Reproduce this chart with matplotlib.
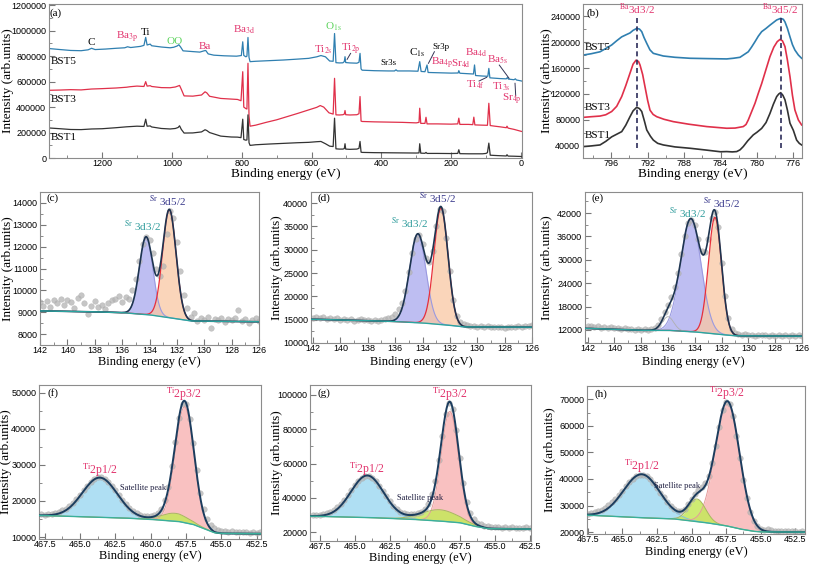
import numpy as np
import matplotlib
matplotlib.use("Agg")
import matplotlib.pyplot as plt
from matplotlib.ticker import MultipleLocator, FormatStrFormatter

plt.rcParams["font.family"] = "Liberation Sans"
plt.rcParams["mathtext.fontset"] = "stix"
SERIF = "Liberation Serif"
W, H = 817, 565

# ---------------- (a) survey spectra: (BE, intensity) vertices ----------------
survey_bst5 = [
    (1352, 860000), (1320, 852000), (1290, 845000), (1260, 843000), (1240, 850000), (1230, 862000),
    (1220, 852000), (1190, 856000), (1160, 862000), (1135, 866000), (1127, 874000), (1118, 868000),
    (1090, 877000), (1080, 885000), (1075, 948000), (1071, 888000), (1062, 895000), (1058, 882000),
    (1030, 872000), (1005, 866000), (995, 870000), (985, 880000), (980, 890000), (975, 872000),
    (968, 842000), (940, 836000), (920, 832000), (908, 842000), (903, 845000), (896, 818000),
    (880, 808000), (850, 803000), (815, 800000), (801, 805000), (797, 913000), (794, 806000),
    (788, 795000), (785, 800000), (782, 947000), (779, 790000), (776, 757000), (760, 760000),
    (720, 765000), (680, 770000), (640, 777000), (608, 783000), (585, 795000), (573, 805000),
    (560, 795000), (548, 762000), (538, 760000), (534, 978000), (530, 749000), (520, 747000),
    (510, 748000), (506, 758000), (504, 796000), (502, 750000), (490, 747000), (470, 745000),
    (464, 752000), (461, 822000), (458, 700000), (455, 690000), (420, 686000), (380, 684000),
    (362, 684000), (358, 693000), (354, 684000), (320, 684000), (295, 682000), (290, 757000),
    (286, 680000), (275, 678000), (272, 705000), (269, 731000), (266, 672000), (240, 670000),
    (200, 667000), (180, 668000), (178, 686000), (175, 666000), (150, 662000), (136, 660000),
    (133, 731000), (130, 648000), (110, 644000), (95, 642000), (92, 704000), (89, 630000),
    (75, 627000), (60, 624000), (42, 622000), (39, 632000), (36, 620000), (20, 615000),
    (16, 622000), (13, 613000), (0, 606000), (-3, 604000),
]
survey_bst3 = [
    (1352, 532000), (1320, 534000), (1290, 537000), (1260, 535000), (1230, 542000), (1200, 545000),
    (1160, 550000), (1130, 556000), (1120, 560000), (1100, 565000), (1080, 562000), (1075, 600000),
    (1071, 565000), (1062, 568000), (1058, 562000), (1030, 553000), (1005, 552000), (990, 558000),
    (982, 566000), (978, 570000), (973, 540000), (965, 488000), (940, 486000), (915, 495000),
    (905, 520000), (900, 512000), (892, 485000), (860, 468000), (830, 463000), (812, 460000),
    (802, 450000), (797, 678000), (794, 400000), (788, 388000), (785, 385000), (782, 744000),
    (779, 330000), (776, 250000), (760, 258000), (730, 280000), (700, 300000), (670, 325000),
    (640, 350000), (608, 378000), (585, 398000), (575, 412000), (565, 400000), (550, 355000),
    (538, 345000), (534, 626000), (530, 339000), (520, 338000), (510, 340000), (506, 345000),
    (504, 373000), (502, 340000), (490, 338000), (470, 340000), (464, 348000), (461, 483000),
    (458, 290000), (455, 287000), (420, 284000), (380, 282000), (340, 280000), (300, 276000),
    (292, 280000), (290, 391000), (287, 272000), (275, 272000), (272, 320000), (269, 268000),
    (240, 268000), (200, 266000), (181, 268000), (178, 313000), (175, 264000), (150, 264000),
    (138, 262000), (135, 321000), (132, 260000), (110, 258000), (96, 257000), (92, 430000),
    (88, 255000), (75, 250000), (60, 245000), (42, 238000), (40, 250000), (37, 235000),
    (20, 225000), (0, 210000), (-3, 208000),
]
survey_bst1 = [
    (1352, 236000), (1320, 230000), (1290, 224000), (1260, 223000), (1230, 228000), (1200, 230000),
    (1160, 238000), (1130, 245000), (1100, 250000), (1080, 248000), (1075, 305000), (1071, 250000),
    (1062, 252000), (1058, 244000), (1030, 232000), (1005, 228000), (990, 232000), (982, 240000),
    (978, 253000), (973, 225000), (965, 196000), (940, 197000), (915, 205000), (905, 222000),
    (900, 216000), (892, 200000), (860, 172000), (830, 165000), (812, 164000), (802, 160000),
    (797, 305000), (794, 145000), (788, 140000), (785, 142000), (782, 339000), (779, 120000),
    (776, 99000), (760, 104000), (720, 110000), (680, 115000), (640, 120000), (608, 123000),
    (585, 128000), (573, 130000), (560, 112000), (548, 93000), (538, 90000), (534, 313000),
    (530, 72000), (520, 70000), (510, 70000), (506, 74000), (504, 112000), (502, 70000),
    (490, 68000), (470, 70000), (464, 76000), (461, 130000), (458, 46000), (455, 44000),
    (420, 42000), (380, 41000), (340, 40000), (300, 39000), (292, 40000), (290, 112000),
    (287, 38000), (275, 37000), (272, 44000), (269, 36000), (240, 36000), (200, 35000),
    (181, 36000), (178, 65000), (175, 34000), (150, 33000), (110, 33000), (100, 36000),
    (96, 42000), (92, 117000), (88, 22000), (75, 20000), (60, 18000), (42, 16000),
    (40, 26000), (37, 15000), (20, 14000), (0, 12000), (-3, 11000),
]

# ---------------- (b) Ba 3d region ----------------
ba3d_bst5 = [
    (799.06, 180000), (798.2, 182000), (797.23, 185000), (796.6, 190000), (795.95, 195500),
    (795.4, 202000), (794.85, 208000), (794.4, 211000), (793.94, 214000), (793.6, 218000),
    (793.2, 221000), (792.9, 220000), (792.65, 216000), (792.4, 207000), (792.1, 198000),
    (791.75, 188000), (791.38, 182600), (790.28, 178500), (789.0, 176500), (787.35, 175000),
    (785.5, 174500), (783.32, 174000), (782.6, 175000), (781.86, 176500), (780.95, 185000),
    (780.6, 192000), (780.21, 200600), (779.85, 209000), (779.48, 216000), (779.0, 221000),
    (778.57, 226000), (778.2, 230000), (777.83, 234000), (777.39, 236500), (777.1, 235000),
    (776.92, 231000), (776.65, 221000), (776.37, 208000), (776.1, 196000), (775.83, 187700),
    (775.45, 180000), (775.09, 175000),
]
ba3d_bst3 = [
    (799.06, 84000), (798.2, 85000), (797.23, 86000), (796.6, 88000), (795.95, 93000),
    (795.4, 101000), (794.85, 116000), (794.4, 133000), (793.94, 152000), (793.6, 166000),
    (793.28, 172000), (793.0, 170000), (792.84, 164700), (792.55, 150000), (792.29, 131000),
    (792.0, 110000), (791.74, 95000), (791.4, 88500), (791.0, 85000), (790.2, 81000),
    (789.18, 77400), (787.5, 73500), (785.52, 69800), (783.32, 67200), (782.4, 67500),
    (781.5, 69800), (781.2, 73000), (780.95, 80000), (780.21, 105700), (779.85, 121000),
    (779.48, 136000), (779.0, 158000), (778.57, 177500), (778.15, 192000), (777.77, 200600),
    (777.47, 204000), (777.2, 202000), (776.92, 193000), (776.65, 172000), (776.37, 146700),
    (776.1, 118000), (775.83, 95400), (775.45, 80000), (775.09, 72300),
]
ba3d_bst1 = [
    (799.06, 39000), (798.2, 40000), (797.23, 41500), (796.6, 47000), (795.95, 54000),
    (795.4, 58000), (794.85, 62000), (794.4, 72000), (793.94, 85000), (793.6, 94000),
    (793.2, 99500), (792.9, 97500), (792.65, 93000), (792.35, 78000), (792.1, 64600),
    (791.7, 55000), (791.38, 49000), (790.9, 44000), (790.28, 41500), (789.0, 38500),
    (787.35, 36400), (785.5, 33500), (784.0, 31000), (783.32, 31300), (782.7, 30800),
    (782.22, 31300), (781.85, 34000), (781.5, 39000), (781.0, 48000), (780.4, 57000),
    (780.0, 61000), (779.48, 67000), (779.0, 76000), (778.57, 90000), (778.2, 104000),
    (777.83, 116000), (777.6, 120000), (777.39, 122000), (777.15, 118000), (776.92, 111000),
    (776.65, 95000), (776.37, 75000), (776.0, 64000), (775.64, 49000), (775.35, 44000),
    (775.09, 41500),
]
ba3d_marks = [793.2, 777.36]

# ---------------- (c)-(e) Sr 3d: measured points (every 0.25 eV, 142 -> 126) ----------------
sr_x = np.arange(142.0, 125.99, -0.25)
sr_c_pts = [9450, 9300, 9500, 9250, 9550, 9400, 9600, 9350, 9550, 9450, 9200, 9650, 9800, 9400,
            8900, 9300, 9500, 9250, 9350, 9150, 9400, 9550, 9600, 9750, 9450, 9700, 9600, 10000,
            10500, 11350, 12100, 12450, 12300, 11700, 11000, 10650, 11100, 12600, 13650, 13300,
            12200, 10900, 9800, 9200, 8800, 8950, 8600, 8750, 8650, 8800, 8300, 8700, 8650, 8750,
            8550, 8700, 8650, 8750, 9100, 8600, 8700, 8500, 8650, 8750, 8600]
sr_d_pts = [15400, 15600, 15300, 15500, 15200, 15450, 15100, 15300, 15000, 15200, 14900, 15100,
            14800, 15000, 15150, 14850, 14950, 14800, 15000, 14750, 14900, 15100, 15300, 15600,
            16200, 17200, 18600, 21200, 25300, 29300, 32400, 33100, 31200, 28300, 27300, 29800,
            35000, 38700, 38300, 32600, 25400, 19300, 15900, 14500, 14000, 13800, 13600, 13700,
            13500, 13600, 13450, 13550, 13400, 13500, 13350, 13450, 13300, 13450, 13350, 13500,
            13600, 13400, 13550, 13700, 13800]
sr_e_pts = [12900, 13100, 12700, 12900, 12600, 12800, 12500, 12700, 12400, 12600, 12300, 12500,
            12200, 12350, 12100, 12250, 12050, 12150, 12000, 12200, 12500, 13300, 14700, 16600,
            18300, 20500, 23000, 26600, 31400, 36200, 39400, 40300, 38900, 35300, 32200, 31900,
            35300, 40600, 42300, 38300, 29300, 20800, 15000, 12300, 11300, 10900, 10700, 10900,
            10600, 10800, 10500, 10700, 10600, 10800, 10500, 10700, 10450, 10650, 10500, 10700,
            10550, 10750, 10500, 10650, 10550]
# Shirley-type background knots (BE, intensity)
sr_c_bg = [(142, 9060), (138, 9020), (136, 8980), (134, 8880), (132, 8700), (131, 8600), (126, 8560)]
sr_d_bg = [(142, 15100), (138, 14800), (136, 14600), (134, 14300), (132, 13800), (131, 13450), (126, 13400)]
sr_e_bg = [(142, 12400), (138, 11900), (136, 11900), (134, 11500), (132, 10800), (131, 10500), (126, 10400)]
# fitted components: (centre eV, height, FWHM eV) -> 3d3/2, 3d5/2 (+ shoulder)
sr_c_fit = [(134.25, 3550, 1.15), (132.55, 4950, 1.15)]
sr_d_fit = [(134.35, 19000, 1.4), (132.65, 25000, 1.2)]
sr_e_fit = [(134.3, 29000, 1.8), (132.5, 29900, 1.15), (136.0, 3500, 1.0)]

# ---------------- (f)-(h) Ti 2p ----------------
ti_f_x = np.arange(467.75, 452.24, -0.25)
ti_f_pts = [16300, 16100, 16500, 16400, 16700, 16900, 17400, 17900, 18600, 19400, 20500, 21700,
            23000, 24300, 25300, 26200, 26700, 26600, 26200, 25300, 24300, 23000, 21700, 20400,
            19200, 18100, 17300, 16700, 16200, 15900, 15800, 15800, 16100, 16700, 17900, 20300,
            24000, 29600, 36500, 43000, 47000, 46900, 42900, 36000, 28600, 22300, 17800, 15000,
            13300, 12400, 12000, 11800, 11700, 11500, 11600, 11400, 11500, 11300, 11400, 11200,
            11350, 11250, 11300]
ti_g_x = np.arange(468.0, 452.49, -0.25)
ti_g_pts = [29800, 30100, 29900, 30400, 30900, 31800, 33000, 34600, 36600, 39000, 41700, 44500,
            47300, 49800, 51600, 52600, 52700, 51600, 49600, 46900, 43800, 40800, 37900, 35400,
            33400, 31900, 30900, 30400, 30300, 30500, 31000, 31900, 33500, 36500, 42000, 50000,
            62000, 76000, 89000, 95500, 92000, 79500, 63500, 48500, 37500, 31000, 27500, 25500,
            24500, 23800, 23300, 23000, 22800, 22900, 22600, 22800, 22500, 22700, 22400, 22600,
            22500, 22700, 22600]
ti_h_x = np.arange(467.5, 451.99, -0.25)
ti_h_pts = [26900, 27100, 27400, 27800, 28400, 29100, 30100, 31200, 32500, 34000, 35600, 37200,
            38700, 40000, 41000, 41600, 41600, 41000, 39900, 38400, 36700, 34900, 33100, 31400,
            29800, 28700, 28000, 27900, 28700, 30500, 32600, 34500, 36000, 37000, 38500, 41200,
            46000, 52400, 59600, 65800, 69100, 68300, 63700, 56300, 47800, 39500, 32700, 27600,
            24300, 22300, 21100, 20800, 21000, 20800, 20600, 20500, 20400, 20500, 20300, 20400,
            20300, 20200, 20300]
ti_f_bg = [(467.9, 16000), (462, 15300), (460, 14900), (458, 14300), (457, 13500), (456, 12000),
           (455.5, 11200), (455, 11000), (452.2, 10900)]
ti_g_bg = [(468.2, 29300), (464, 28500), (461, 27500), (459, 26500), (457.5, 25500), (456.5, 23500),
           (455.5, 22000), (452.4, 21700)]
ti_h_bg = [(467.55, 26400), (464, 25500), (461.3, 25000), (459, 23600), (457.5, 22400), (456.5, 21200),
           (455.5, 20300), (455, 20100), (451.8, 20000)]
# (centre, height, FWHM) -> Ti2p1/2, satellite, Ti2p3/2
ti_f_fit = [(463.6, 11000, 2.9), (458.3, 2200, 2.2), (457.6, 32160, 1.55)]
ti_g_fit = [(464.1, 24500, 2.75), (458.9, 6600, 3.0), (458.2, 64400, 1.45)]
ti_h_fit = [(463.6, 16350, 3.1), (459.6, 8500, 1.45), (457.4, 47000, 2.05)]


def gauss(x, c, h, fwhm):
    s = fwhm / 2.3548
    return h * np.exp(-(x - c) ** 2 / (2 * s * s))


def bg_line(x, knots):
    kx, ky = np.array(knots).T
    return np.interp(x, kx[::-1], ky[::-1])


fig = plt.figure(figsize=(W / 100, H / 100), dpi=100)


def px_axes(left, top, right, bottom):
    return fig.add_axes([left / W, 1 - bottom / H, (right - left) / W, (bottom - top) / H])


def ftext(x, y, s, **kw):
    fig.text(x / W, 1 - y / H, s, ha="center", va="center", **kw)


def style(ax, box, xmaj, xmin, ymaj, ymin, xfmt, ylab_x, xlab_y, lsize):
    left, top, right, bottom = box
    ax.xaxis.set_major_locator(MultipleLocator(xmaj))
    ax.xaxis.set_minor_locator(MultipleLocator(xmin))
    ax.yaxis.set_major_locator(MultipleLocator(ymaj))
    ax.yaxis.set_minor_locator(MultipleLocator(ymin))
    ax.xaxis.set_major_formatter(FormatStrFormatter(xfmt))
    ax.yaxis.set_major_formatter(FormatStrFormatter("%d"))
    ax.tick_params(which="both", direction="in", color="#777777", labelsize=6.5, pad=2)
    ax.tick_params(axis="x", pad=1)
    ax.tick_params(which="major", length=4)
    ax.tick_params(which="minor", length=2)
    for s in ax.spines.values():
        s.set_color("#8c8c8c")
        s.set_linewidth(0.8)
    ax.set_xlabel("Binding energy (eV)", family=SERIF, fontsize=lsize)
    ax.xaxis.set_label_coords(0.5, -(xlab_y - bottom) / (bottom - top))
    ax.set_ylabel("Intensity (arb.units)", family=SERIF, fontsize=9.5)
    ax.yaxis.set_label_coords(-(left - ylab_x) / (right - left), 0.5)


PINK = "#e2356e"
GREEN = "#5cd35c"

# ---- (a)
box = (49, 4, 522, 158)
ax = px_axes(*box)
for data, col in [(survey_bst5, "#2f7fb0"), (survey_bst3, "#e0304a"), (survey_bst1, "#333333")]:
    be, it = np.array(data).T
    ax.plot(be, it, color=col, lw=0.9)
ax.set_xlim(1352, -3)
ax.set_ylim(0, 1210000)
style(ax, box, 200, 100, 200000, 100000, "%d", 14, 168, 9.5)
a_labels = [
    ("C", 1231, 905000, "black"), (r"Ba$_{\rm 3p}$", 1127, 944000, PINK), ("Ti", 1074, 984000, "black"),
    ("OO", 993, 918000, GREEN), ("Ba", 907, 879000, PINK), (r"Ba$_{\rm 3d}$", 793, 1010000, PINK),
    (r"O$_{\rm 1s}$", 537, 1031000, GREEN), (r"Ti$_{\rm 2s}$", 565, 853000, PINK),
    (r"Ti$_{\rm 2p}$", 486, 853000, PINK), (r"C$_{\rm 1s}$", 298, 827000, "black"),
    (r"Ba$_{\rm 4p}$", 227, 744000, PINK), (r"Sr$_{\rm 4d}$", 171, 744000, PINK),
    (r"Ba$_{\rm 4d}$", 129, 827000, PINK), (r"Ba$_{\rm 5s}$", 67, 770000, PINK),
    (r"Ti$_{\rm 4f}$", 129, 574000, PINK), (r"Ti$_{\rm 3s}$", 57, 556000, PINK),
    (r"Sr$_{\rm 4p}$", 27, 462000, PINK),
    ("BST5", 1310, 757000, "black"), ("BST3", 1310, 462000, "black"), ("BST1", 1310, 162000, "black"),
    ("(a)", 1332, 1140000, "black"),
]
for s, x, y, c in a_labels:
    ax.text(x, y, s, color=c, family=SERIF, fontsize=8, ha="center", va="center")
for s, x, y in [("Sr3s", 381, 744000), ("Sr3p", 230, 869000)]:
    ax.text(x, y, s, family=SERIF, fontsize=6.5, ha="center", va="center")
for x0, y0, x1, y1 in [(248, 835000, 265, 744000), (488, 822000, 498, 775000), (62, 730000, 34, 626000),
                       (120, 605000, 98, 634000), (17, 587000, 15, 488000)]:
    ax.plot([x0, x1], [y0, y1], color="#333355", lw=0.7)

# ---- (b)
box = (583, 4, 802, 158)
ax = px_axes(*box)
for data, col in [(ba3d_bst5, "#2f7fb0"), (ba3d_bst3, "#e0304a"), (ba3d_bst1, "#333333")]:
    be, it = np.array(data).T
    ax.plot(be, it, color=col, lw=1.2)
for m in ba3d_marks:
    ax.axvline(m, ymin=0.065, ymax=0.915, color="#2c2c5a", lw=1.2, ls=(0, (3, 2)))
ax.set_xlim(799.1, 775.05)
ax.set_ylim(21400, 258600)
style(ax, box, 4, 2, 40000, 20000, "%d", 553, 168, 9.5)
ftext(593, 13, "(b)", family=SERIF, fontsize=8)
ftext(637, 9, r"${}^{\rm Ba}$3d3/2", family=SERIF, fontsize=8, color=PINK)
ftext(780, 9, r"${}^{\rm Ba}$3d5/2", family=SERIF, fontsize=8, color=PINK)
ftext(598, 47, "BST5", family=SERIF, fontsize=8)
ftext(598, 108, "BST3", family=SERIF, fontsize=8)
ftext(598, 136, "BST1", family=SERIF, fontsize=8)


# ---- Sr panels
def sr_panel(box, xlim, ylim, pts, bg, fit, ymaj, ymin, ylab_x, xlab_y, letter, lab_pos):
    ax = px_axes(*box)
    xf = np.linspace(142.5, 125.5, 800)
    b = bg_line(xf, bg)
    g = [gauss(xf, *p) for p in fit]
    ax.fill_between(xf, b, b + g[0], color="#b3b3f0", alpha=0.85, lw=0, zorder=1)
    ax.fill_between(xf, b, b + g[1], color="#f9c7a3", alpha=0.75, lw=0, zorder=1)
    ax.plot(xf, b + g[0], color="#9a9ae0", lw=0.8, zorder=3)
    ax.plot(xf, b + g[1], color="#e8303a", lw=0.9, zorder=3)
    if len(g) > 2:
        ax.plot(xf, b + g[2], color="#b0b0b0", lw=0.6, zorder=3)
    ax.plot(sr_x, pts, "o", ms=4, color="#b4b4b4", mec="#a8a8a8", mew=0.3, alpha=0.75, zorder=2)
    ax.plot(xf, b + sum(g), color="#1e3550", lw=1.2, zorder=4)
    ax.plot(xf, b, color="#2aa5a0", lw=1.0, zorder=4)
    ax.set_xlim(*xlim)
    ax.set_ylim(*ylim)
    style(ax, box, 2, 1, ymaj, ymin, "%d", ylab_x, xlab_y, 9)
    left, top = box[0], box[1]
    ftext(left + 13, top + 6, letter, family=SERIF, fontsize=8)
    (x1, y1), (x2, y2) = lab_pos
    ftext(x1, y1, r"${}^{\rm Sr}$ 3d3/2", family=SERIF, fontsize=8, color="#2f9c9c")
    ftext(x2, y2, r"${}^{\rm Sr}$ 3d5/2", family=SERIF, fontsize=8, color="#3a3a8c")


sr_panel((40, 192, 259, 345), (142, 126), (7500, 14500), sr_c_pts, sr_c_bg, sr_c_fit, 1000, 500,
         14, 356, "(c)", [(143, 226), (168, 201)])
sr_panel((311, 192, 532, 343), (142.15, 126), (10000, 42400), sr_d_pts, sr_d_bg, sr_d_fit, 5000, 2500,
         283, 356, "(d)", [(410, 223), (438, 198)])
sr_panel((585, 192, 802, 343), (142.2, 126), (8650, 47400), sr_e_pts, sr_e_bg, sr_e_fit, 6000, 3000,
         553, 356, "(e)", [(688, 213), (722, 203)])


# ---- Ti panels
def ti_panel(box, xlim, ylim, xs, pts, bg, fit, ymaj, ymin, ylab_x, xlab_y, letter, labs):
    ax = px_axes(*box)
    xf = np.linspace(468.5, 451.5, 800)
    b = bg_line(xf, bg)
    g = [gauss(xf, *p) for p in fit]
    ax.fill_between(xf, b, b + g[0], color="#a6dcf2", alpha=0.9, lw=0, zorder=1)
    ax.fill_between(xf, b, b + g[2], color="#f9b6b6", alpha=0.85, lw=0, zorder=1)
    ax.fill_between(xf, b, b + g[1], color="#c6e85a", alpha=0.85, lw=0, zorder=1)
    ax.plot(xf, b + g[0], color="#86bfe0", lw=0.7, zorder=3)
    ax.plot(xf, b + g[2], color="#e49a9a", lw=0.7, zorder=3)
    ax.plot(xf, b + g[1], color="#a8b860", lw=0.7, zorder=3)
    ax.plot(xs, pts, "o", ms=4, color="#b4b4b4", mec="#a8a8a8", mew=0.3, alpha=0.75, zorder=2)
    ax.plot(xf, b + sum(g), color="#1c3d5e", lw=1.4, zorder=4)
    ax.plot(xf, b, color="#3ab09a", lw=1.0, zorder=4)
    ax.set_xlim(*xlim)
    ax.set_ylim(*ylim)
    style(ax, box, 2.5, 1.25, ymaj, ymin, "%.1f", ylab_x, xlab_y, 9)
    left, top = box[0], box[1]
    ftext(left + 14, top + 8, letter, family=SERIF, fontsize=8)
    (x1, y1), (x2, y2), (x3, y3) = labs
    ftext(x1, y1, r"${}^{\rm Ti}$2p1/2", family=SERIF, fontsize=8.5, color=PINK)
    ftext(x2, y2, r"${}^{\rm Ti}$2p3/2", family=SERIF, fontsize=8.5, color=PINK)
    ftext(x3, y3, "Satellite peak", family=SERIF, fontsize=6, color="#1e1e40")


ti_panel((39, 385, 261, 539), (467.9, 452.2), (9450, 52200), ti_f_x, ti_f_pts, ti_f_bg, ti_f_fit,
         10000, 5000, 12, 550, "(f)", [(100, 470), (184, 394), (143, 488)])
ti_panel((310, 385, 531, 541), (468.2, 452.4), (14800, 105800), ti_g_x, ti_g_pts, ti_g_bg, ti_g_fit,
         20000, 10000, 283, 552, "(g)", [(367, 469), (450, 394), (420, 498)])
ti_panel((587, 386, 805, 534), (467.55, 451.8), (19300, 75000), ti_h_x, ti_h_pts, ti_h_bg, ti_h_fit,
         10000, 5000, 556, 546, "(h)", [(642, 466), (727, 393), (677, 486)])

fig.savefig("out.png", dpi=100)
